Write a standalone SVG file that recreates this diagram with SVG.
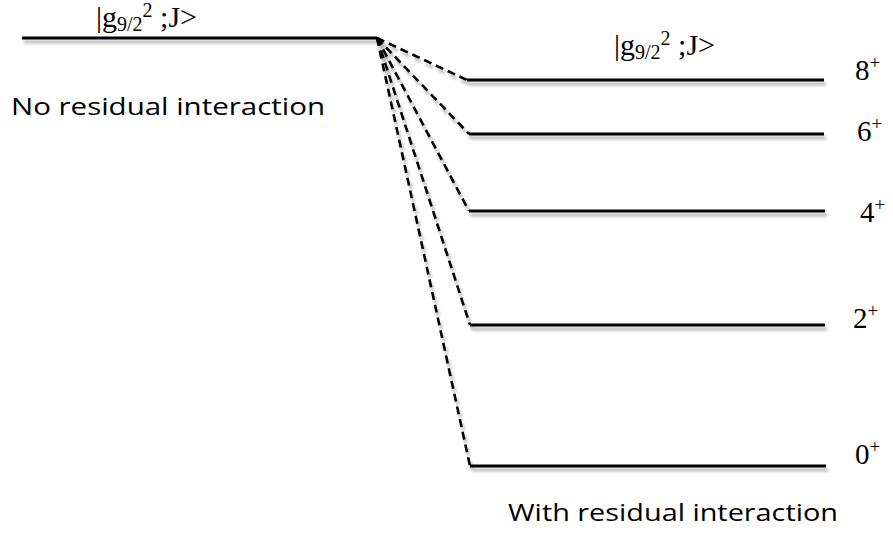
<svg xmlns="http://www.w3.org/2000/svg" width="893" height="540" viewBox="0 0 893 540">
<defs>
<filter id="sh" filterUnits="userSpaceOnUse" x="0" y="0" width="893" height="540">
<feGaussianBlur in="SourceAlpha" stdDeviation="1.5"/>
<feOffset dx="2" dy="4" result="b"/>
<feComponentTransfer><feFuncA type="linear" slope="0.3"/></feComponentTransfer>
<feMerge><feMergeNode/><feMergeNode in="SourceGraphic"/></feMerge>
</filter>
<style>
.lvl{stroke:#000;stroke-width:3;fill:none}
.dash{stroke:#000;stroke-width:2.6;stroke-dasharray:8,5;fill:none}
.serif{font-family:"Liberation Serif","Times New Roman",serif;fill:#000}
.sans{font-family:"Open Sans","Liberation Sans",sans-serif;fill:#000;font-size:23px}
.jp{font-size:29px}
</style>
</defs>
<rect width="893" height="540" fill="#fff"/>
<g id="connectors" filter="url(#sh)">
<path class="dash" d="M377 38 L467 80"/>
<path class="dash" d="M377 38 L469 134"/>
<path class="dash" d="M377 38 L469 211"/>
<path class="dash" d="M377 38 L470 325"/>
<path class="dash" d="M377 38 L470 466"/>
</g>
<g id="unperturbed">
<path class="lvl" d="M22 38 H377" filter="url(#sh)"/>
<text class="serif" x="96" y="27" font-size="30">|g<tspan font-size="20" dy="4">9/2</tspan><tspan font-size="20" dy="-14">2</tspan><tspan dy="10"> ;J&gt;</tspan></text>
<text class="sans" x="11" y="115" textLength="314" lengthAdjust="spacingAndGlyphs">No residual interaction</text>
</g>
<g id="header">
<text class="serif" x="614" y="55" font-size="30">|g<tspan font-size="20" dy="4">9/2</tspan><tspan font-size="20" dy="-14">2</tspan><tspan dy="10"> ;J&gt;</tspan></text>
</g>
<g id="level8">
<path class="lvl" d="M467 80 H824" filter="url(#sh)"/>
<text class="serif jp" x="855" y="80">8<tspan font-size="19" dy="-11">+</tspan></text>
</g>
<g id="level6">
<path class="lvl" d="M469 134 H824" filter="url(#sh)"/>
<text class="serif jp" x="857" y="141">6<tspan font-size="19" dy="-11">+</tspan></text>
</g>
<g id="level4">
<path class="lvl" d="M469 211 H825" filter="url(#sh)"/>
<text class="serif jp" x="860" y="222">4<tspan font-size="19" dy="-11">+</tspan></text>
</g>
<g id="level2">
<path class="lvl" d="M470 325 H825" filter="url(#sh)"/>
<text class="serif jp" x="853" y="328">2<tspan font-size="19" dy="-11">+</tspan></text>
</g>
<g id="level0">
<path class="lvl" d="M470 466 H826" filter="url(#sh)"/>
<text class="serif jp" x="855" y="464">0<tspan font-size="19" dy="-11">+</tspan></text>
</g>
<g id="footer">
<text class="sans" x="508" y="521" textLength="330" lengthAdjust="spacingAndGlyphs">With residual interaction</text>
</g>
</svg>
